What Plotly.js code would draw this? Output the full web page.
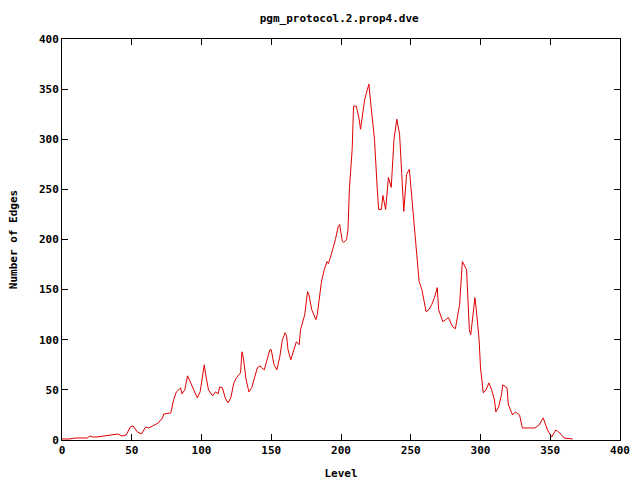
<!DOCTYPE html>
<html>
<head>
<meta charset="utf-8">
<script src="https://cdn.plot.ly/plotly-3.0.1.min.js"></script>
<style>html,body{margin:0;padding:0;background:#fff;}#chart{width:640px;height:480px;}</style>
</head>
<body>
<div id="chart"></div>
<script>
const levels = [0,5,10,15,18,20,22,25,30,34,37,40,43,46,49,51,54,57,60,62,65,69,72,73,78,80,82,85,86,88,90,92,93,95,97,99,102,103,105,108,110,112,113,115,117,119,121,123,125,128,129,130,132,134,136,138,140,142,143,145,147,149,150,152,154,156,158,160,161,162,164,166,168,170,171,174,176,177,179,182,183,186,188,190,191,193,196,198,199,201,202,204,205,206,208,209,211,213,214,216,217,219,220,221,224,226,227,229,230,232,234,236,238,240,242,245,247,249,251,254,256,258,261,263,265,267,269,270,273,275,277,280,282,285,286,287,290,291,292,293,295,296,297,299,300,302,304,306,308,310,311,313,315,316,319,320,323,325,328,330,335,339,342,345,346,348,351,354,356,360,366];
const edges  = [1,1,2,2,2,4,3,3,4,5,6,6,4,5,13,14,8,6,13,12,14,17,22,26,27,40,48,52,46,50,64,58,55,48,42,48,75,65,50,44,48,46,53,52,42,37,42,56,62,67,88,82,60,48,52,62,72,74,72,70,80,90,90,75,70,82,100,107,104,90,80,88,98,95,110,125,148,145,130,120,125,158,170,178,176,185,200,213,215,198,197,200,210,250,290,333,333,320,310,330,340,350,355,340,300,250,230,230,244,230,262,252,300,320,305,228,265,270,240,190,158,150,128,130,135,142,152,130,118,120,122,113,111,135,158,178,170,140,110,105,130,142,130,100,72,47,50,57,50,40,28,33,45,55,52,35,25,28,25,12,12,12,15,22,18,10,3,10,8,2,1,1];

const tickVals = [0,50,100,150,200,250,300,350,400];
const tickFont = {family: 'DejaVu Sans Mono', size: 11, color: '#000', weight: 'bold'};

const trace = {
  x: levels, y: edges, type: 'scatter', mode: 'lines',
  line: {color: '#e00000', width: 1}, hoverinfo: 'none'
};

const axisCommon = {
  showgrid: false, zeroline: false, showline: true, linecolor: '#000', linewidth: 1,
  mirror: 'ticks', ticks: 'inside', ticklen: 6, tickcolor: '#000', tickwidth: 1,
  tickfont: tickFont, tickvals: tickVals, ticktext: tickVals.map(String), range: [0, 400]
};

const layout = {
  width: 640, height: 480,
  margin: {l: 62, r: 20, t: 39, b: 40, pad: 0},
  paper_bgcolor: '#fff', plot_bgcolor: '#fff',
  showlegend: false,
  title: {text: 'pgm_protocol.2.prop4.dve', font: tickFont, x: 0.53, xanchor: 'center', y: 1 - 18/480, yanchor: 'middle', yref: 'container'},
  xaxis: Object.assign({}, axisCommon, {title: {text: 'Level', font: tickFont, standoff: 14}}),
  yaxis: Object.assign({}, axisCommon, {title: {text: 'Number of Edges', font: tickFont, standoff: 19}})
};

Plotly.newPlot('chart', [trace], layout, {staticPlot: true, displayModeBar: false});
</script>
</body>
</html>
